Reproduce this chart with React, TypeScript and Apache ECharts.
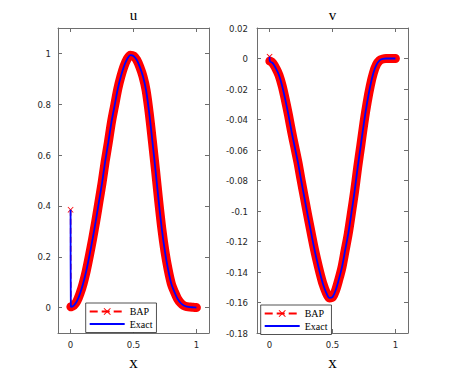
import React, { useEffect, useRef } from "react";
import * as echarts from "echarts";

const xs = [0, 0.002, 0.025, 0.05, 0.075, 0.1, 0.125, 0.15, 0.175, 0.2, 0.225, 0.25, 0.275, 0.3, 0.325, 0.35, 0.375, 0.4, 0.425, 0.45, 0.475, 0.5, 0.525, 0.55, 0.575, 0.6, 0.625, 0.65, 0.675, 0.7, 0.725, 0.75, 0.775, 0.8, 0.825, 0.85, 0.875, 0.9, 0.925, 0.95, 0.975, 1.0];
const uValues = [0.385, 0.003, 0.008, 0.025, 0.055, 0.095, 0.145, 0.205, 0.27, 0.34, 0.415, 0.49, 0.575, 0.65, 0.73, 0.795, 0.86, 0.91, 0.95, 0.978, 0.993, 0.99, 0.975, 0.947, 0.91, 0.855, 0.765, 0.655, 0.54, 0.42, 0.31, 0.22, 0.15, 0.095, 0.062, 0.035, 0.018, 0.008, 0.004, 0.002, 0.001, 0.0];
const vValues = [0.0012, -0.0017, -0.003, -0.0065, -0.011, -0.018, -0.027, -0.037, -0.048, -0.058, -0.068, -0.0795, -0.0905, -0.1015, -0.112, -0.1225, -0.132, -0.1405, -0.148, -0.1535, -0.157, -0.1565, -0.152, -0.145, -0.137, -0.126, -0.115, -0.1015, -0.0875, -0.0715, -0.057, -0.042, -0.029, -0.018, -0.0095, -0.004, -0.0012, -0.0003, 0, 0, 0, 0];

const xTicks = [0, 0.5, 1];
const uTicks = [0, 0.2, 0.4, 0.6, 0.8, 1];
const vTicks = [-0.18, -0.16, -0.14, -0.12, -0.1, -0.08, -0.06, -0.04, -0.02, 0, 0.02];
const legendNames = ["BAP", "Exact"];
const titles = ["u", "v"];
const xLabel = "x";

const RED = "#ff0000";
const BLUE = "#0000ff";
const AXIS = "#6e6e6e";
const TXT = "#262626";
const TICK_FONT = '"Liberation Sans Narrow", "DejaVu Sans Condensed", "Liberation Sans", sans-serif';
const SERIF = '"Liberation Serif", "DejaVu Serif", serif';
const X_SYMBOL = "path://M0,1L1,0L5,4L9,0L10,1L6,5L10,9L9,10L5,6L1,10L0,9L4,5Z";

const fmt = (v: number) => String(parseFloat(Number(v).toFixed(4)));

const grids = [
  { left: 58, top: 28, width: 151, height: 305 },
  { left: 257, top: 28, width: 151, height: 305 },
];

function xAxesFor(gi: number) {
  const base = {
    gridIndex: gi,
    type: "value" as const,
    min: -0.1,
    max: 1.1,
    splitLine: { show: false },
    axisLine: { show: true, onZero: false, lineStyle: { color: AXIS, width: 1 } },
  };
  return [
    {
      ...base,
      position: "bottom",
      axisTick: { show: true, inside: true, length: 4, customValues: xTicks, lineStyle: { color: AXIS } },
      axisLabel: { show: true, customValues: xTicks, formatter: fmt, margin: 6, color: TXT, fontFamily: TICK_FONT, fontSize: 9.5 },
    },
    {
      ...base,
      position: "top",
      axisTick: { show: true, inside: true, length: 4, customValues: xTicks, lineStyle: { color: AXIS } },
      axisLabel: { show: false },
    },
  ];
}

function yAxesFor(gi: number, min: number, max: number, ticks: number[], margin: number) {
  const base = {
    gridIndex: gi,
    type: "value" as const,
    min,
    max,
    splitLine: { show: false },
    axisLine: { show: true, onZero: false, lineStyle: { color: AXIS, width: 1 } },
  };
  return [
    {
      ...base,
      position: "left",
      axisTick: { show: true, inside: true, length: 4, customValues: ticks, lineStyle: { color: AXIS } },
      axisLabel: { show: true, customValues: ticks, formatter: fmt, margin, color: TXT, fontFamily: TICK_FONT, fontSize: 9.5 },
    },
    {
      ...base,
      position: "right",
      axisTick: { show: true, inside: true, length: 4, customValues: ticks, lineStyle: { color: AXIS } },
      axisLabel: { show: false },
    },
  ];
}

function seriesFor(values: number[], xi: number, yi: number) {
  const pts = xs.map((x, i) => [x, values[i]]);
  return [
    {
      type: "line",
      xAxisIndex: xi,
      yAxisIndex: yi,
      data: pts.slice(1),
      symbol: "none",
      silent: true,
      smooth: 0.3,
      lineStyle: { color: RED, width: 9, cap: "round", join: "round" },
      z: 1,
    },
    {
      name: legendNames[0],
      type: "line",
      xAxisIndex: xi,
      yAxisIndex: yi,
      data: pts,
      symbol: X_SYMBOL,
      symbolSize: 6,
      showAllSymbol: true,
      itemStyle: { color: RED },
      lineStyle: { color: RED, width: 1.5, type: "dashed" },
      z: 2,
    },
    {
      name: legendNames[1],
      type: "line",
      xAxisIndex: xi,
      yAxisIndex: yi,
      data: pts,
      symbol: "none",
      smooth: 0.3,
      itemStyle: { color: BLUE },
      lineStyle: { color: BLUE, width: 1.8 },
      z: 3,
    },
  ];
}

function legendAt(left: number, top: number) {
  return {
    orient: "vertical",
    left,
    top,
    data: [
      { name: legendNames[0] },
      { name: legendNames[1], itemStyle: { opacity: 0 } },
    ],
    itemWidth: 35,
    itemHeight: 9,
    itemGap: 2.5,
    padding: [3.5, 4, 3.5, 3],
    borderColor: "#262626",
    borderWidth: 0.8,
    borderRadius: 0,
    backgroundColor: "#ffffff",
    selectedMode: false,
    textStyle: { fontFamily: SERIF, fontSize: 10, color: "#000" },
  };
}

export default function App() {
  const ref = useRef<HTMLDivElement>(null);
  useEffect(() => {
    if (!ref.current) return;
    const chart = echarts.init(ref.current, undefined, { renderer: "svg" });
    const centers = grids.map((g) => g.left + g.width / 2);
    chart.setOption({
      animation: false,
      backgroundColor: "#ffffff",
      grid: grids.map((g) => ({ ...g, containLabel: false, outerBoundsMode: "none" })),
      xAxis: [...xAxesFor(0), ...xAxesFor(1)],
      yAxis: [...yAxesFor(0, -0.1, 1.1, uTicks, 7), ...yAxesFor(1, -0.18, 0.02, vTicks, 9)],
      legend: [legendAt(85.7, 303), legendAt(260.7, 305)],
      series: [...seriesFor(uValues, 0, 0), ...seriesFor(vValues, 2, 2)],
      graphic: [
        ...titles.map((t, i) => ({
          type: "text",
          x: centers[i],
          y: 15,
          style: { text: t, font: `15px ${SERIF}`, fill: "#000", textAlign: "center", textVerticalAlign: "middle" },
        })),
        ...centers.map((c) => ({
          type: "text",
          x: c,
          y: 362,
          style: { text: xLabel, font: `17px ${SERIF}`, fill: "#000", textAlign: "center", textVerticalAlign: "middle" },
        })),
      ],
    });
    return () => chart.dispose();
  }, []);
  return <div ref={ref} style={{ position: "fixed", left: 0, top: 0, width: 450, height: 375 }} />;
}
